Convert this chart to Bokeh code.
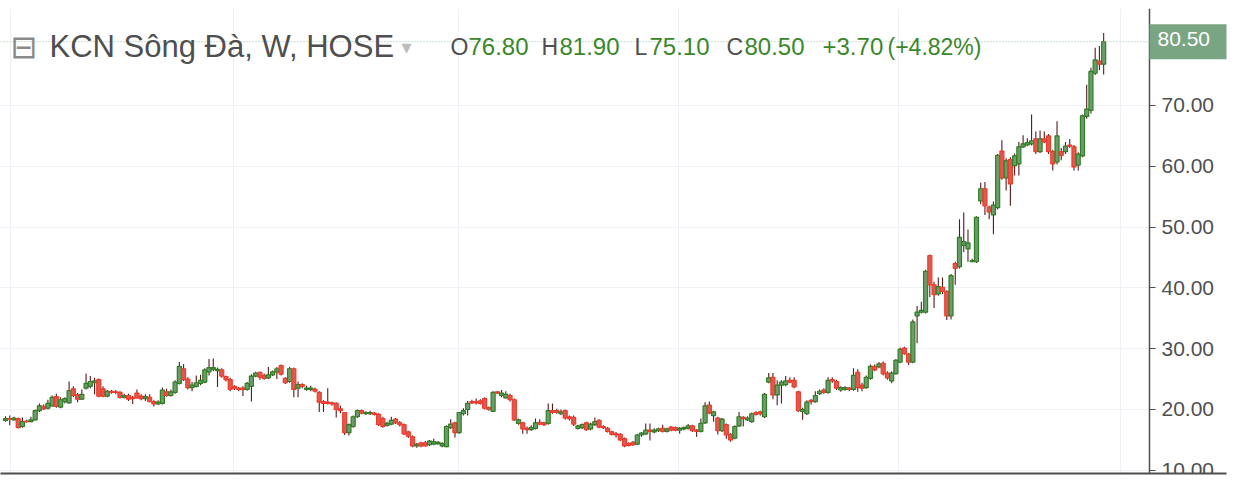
from bokeh.plotting import figure
from bokeh.models import (Range1d, FixedTicker, NumeralTickFormatter, Label, Span,
                          BoxAnnotation, ColumnDataSource)
from bokeh.embed import file_html
from bokeh.resources import INLINE

# ---------------- data (weekly candles, KCN Song Da, HOSE) ----------------
opens = [18.2, 18.5, 18.3, 18.5, 17.2, 18.1, 18.0, 18.3, 19.8, 20.5,
         20.2, 20.6, 22.1, 20.4, 21.3, 21.1, 23.4, 22.4, 21.7, 23.5,
         23.8, 24.4, 24.9, 23.4, 22.2, 23.0, 22.9, 22.8, 22.0, 22.3,
         22.0, 22.7, 22.2, 21.8, 22.0, 21.3, 20.9, 21.0, 22.9, 22.3,
         22.8, 24.3, 26.7, 25.0, 23.6, 23.8, 24.3, 24.5, 26.2, 26.6,
         26.4, 26.5, 25.4, 24.9, 23.8, 23.5, 23.5, 23.3, 23.8, 25.5,
         26.1, 25.6, 25.2, 25.7, 26.2, 27.2, 25.1, 24.6, 26.7, 23.5,
         24.1, 23.3, 23.3, 23.3, 22.8, 21.3, 21.2, 21.1, 21.0, 20.1,
         19.5, 16.2, 17.2, 18.8, 19.8, 19.3, 19.3, 19.4, 19.2, 18.5,
         17.4, 17.6, 18.4, 17.8, 17.5, 16.3, 15.5, 14.0, 14.5, 14.5,
         14.2, 14.3, 14.4, 14.0, 13.9, 17.0, 17.8, 16.2, 19.3, 20.0,
         21.3, 21.3, 21.4, 21.8, 20.3, 19.7, 22.9, 22.3, 21.9, 22.3,
         21.6, 17.7, 17.8, 16.9, 16.7, 16.9, 17.9, 17.8, 17.7, 19.8,
         19.8, 19.3, 19.8, 18.8, 18.7, 16.9, 17.0, 17.8, 16.8, 17.5,
         18.2, 17.2, 16.9, 16.3, 16.0, 15.9, 15.2, 14.4, 14.6, 14.3,
         15.8, 16.0, 16.6, 16.3, 16.5, 16.9, 16.4, 17.1, 17.0, 16.6,
         16.8, 16.9, 17.3, 16.6, 16.4, 17.8, 20.7, 19.0, 18.6, 16.5,
         17.5, 15.9, 15.3, 17.3, 18.7, 18.3, 18.0, 19.5, 19.6, 18.8,
         24.5, 25.3, 22.4, 24.0, 24.1, 24.8, 24.8, 22.9, 19.7, 19.3,
         21.5, 21.3, 22.6, 23.2, 22.8, 24.9, 24.6, 23.2, 23.3, 23.5,
         23.3, 26.1, 24.0, 23.6, 25.1, 27.1, 27.0, 27.6, 26.0, 24.7,
         25.9, 27.8, 30.1, 29.1, 27.8, 35.4, 36.0, 36.0, 45.3, 40.5,
         39.0, 40.1, 39.4, 35.4, 44.0, 43.5, 47.0, 46.4, 44.3, 44.3,
         54.3, 56.3, 53.3, 52.0, 53.2, 62.5, 58.1, 61.1, 60.1, 60.4,
         63.2, 63.5, 63.7, 64.5, 62.4, 64.5, 65.0, 62.4, 60.7, 62.4,
         62.4, 63.5, 63.2, 60.2, 61.7, 68.2, 69.2, 75.3, 77.3, 76.8]
highs = [18.9, 19.0, 18.8, 18.7, 18.7, 18.3, 18.8, 20.0, 21.0, 20.8,
         21.6, 22.3, 22.6, 22.0, 22.0, 24.6, 23.8, 22.7, 23.3, 25.9,
         25.5, 25.2, 25.1, 23.8, 23.2, 23.2, 23.2, 23.0, 22.6, 22.6,
         22.2, 23.3, 22.5, 22.5, 22.5, 21.5, 21.5, 23.6, 23.4, 23.3,
         24.8, 27.8, 27.5, 25.3, 24.5, 25.6, 25.7, 26.8, 28.3, 28.4,
         26.9, 26.8, 25.6, 25.2, 24.0, 23.7, 23.8, 24.5, 25.8, 26.2,
         26.2, 25.9, 27.0, 26.4, 27.0, 27.4, 25.3, 27.0, 26.9, 24.6,
         24.3, 23.9, 23.9, 23.6, 23.0, 21.5, 23.5, 21.3, 21.2, 20.6,
         19.6, 17.7, 19.0, 20.0, 20.0, 19.7, 19.8, 19.6, 19.4, 18.8,
         18.0, 18.8, 18.6, 18.1, 17.7, 16.5, 15.7, 14.5, 14.7, 14.8,
         15.0, 15.2, 14.8, 14.6, 17.4, 18.4, 18.0, 19.6, 20.2, 21.4,
         21.6, 21.8, 21.7, 22.0, 20.5, 23.0, 23.0, 23.2, 23.0, 22.6,
         21.8, 18.5, 18.0, 17.2, 17.4, 18.5, 18.4, 18.0, 21.0, 21.0,
         20.1, 20.0, 20.0, 19.0, 19.0, 17.5, 17.7, 18.0, 17.8, 18.7,
         18.4, 17.4, 17.1, 16.5, 16.3, 16.1, 15.4, 14.6, 14.8, 16.0,
         16.3, 17.7, 17.7, 16.9, 17.0, 17.5, 17.0, 17.3, 17.2, 17.1,
         17.2, 17.6, 17.5, 16.8, 18.5, 21.2, 21.3, 19.8, 18.8, 18.6,
         17.7, 16.1, 17.4, 19.6, 18.9, 18.9, 19.5, 19.7, 19.8, 22.7,
         26.0, 26.0, 24.8, 24.8, 25.5, 25.3, 25.3, 23.1, 20.3, 21.5,
         21.7, 23.0, 23.3, 23.5, 25.3, 25.3, 24.9, 23.8, 23.8, 23.7,
         26.8, 26.6, 24.4, 25.6, 27.4, 27.4, 27.8, 27.9, 26.3, 26.3,
         28.3, 30.2, 30.3, 29.3, 34.8, 37.0, 37.7, 43.0, 45.5, 41.0,
         41.7, 41.7, 39.6, 42.3, 44.3, 51.3, 52.4, 49.6, 44.8, 51.8,
         57.3, 57.4, 53.5, 54.2, 62.0, 64.3, 61.3, 61.5, 62.1, 64.0,
         65.1, 64.6, 68.5, 65.7, 65.9, 65.7, 65.3, 62.7, 67.4, 63.0,
         64.0, 64.5, 63.5, 62.3, 68.5, 73.4, 76.2, 79.5, 79.8, 81.9]
lows = [18.0, 17.4, 18.2, 16.9, 17.0, 17.8, 17.9, 18.2, 19.6, 19.9,
        20.0, 20.5, 20.3, 20.2, 21.0, 21.0, 22.0, 21.2, 21.6, 23.3,
        23.5, 22.5, 22.0, 22.0, 22.0, 22.6, 22.5, 21.8, 21.8, 21.4,
        20.9, 21.8, 21.5, 21.4, 21.2, 20.5, 20.7, 20.8, 22.1, 22.1,
        22.6, 24.1, 24.7, 23.3, 23.0, 23.6, 24.0, 24.3, 25.6, 26.3,
        23.7, 25.2, 24.6, 23.0, 23.2, 23.0, 22.2, 23.1, 21.3, 25.3,
        24.9, 24.9, 25.0, 25.5, 25.0, 25.6, 24.2, 24.4, 22.0, 22.0,
        23.5, 23.1, 23.0, 22.8, 19.6, 19.6, 20.8, 20.6, 18.7, 19.4,
        15.8, 15.7, 17.0, 18.6, 19.2, 19.1, 19.1, 19.0, 17.3, 17.0,
        17.2, 17.4, 17.6, 17.2, 15.8, 15.3, 13.8, 13.7, 13.8, 13.9,
        14.0, 14.1, 14.2, 13.8, 13.8, 16.8, 15.4, 16.0, 19.0, 19.0,
        20.9, 20.8, 20.8, 20.0, 19.8, 19.6, 22.5, 22.0, 21.8, 21.3,
        18.1, 17.5, 16.0, 16.0, 16.5, 16.7, 17.4, 17.3, 17.5, 19.3,
        19.3, 19.1, 18.3, 18.2, 17.3, 16.7, 16.8, 16.5, 16.6, 17.3,
        16.9, 16.8, 16.2, 15.7, 15.4, 14.8, 13.8, 13.9, 14.0, 14.1,
        15.5, 15.8, 14.9, 16.1, 16.3, 16.2, 16.2, 16.4, 16.4, 16.0,
        16.6, 16.7, 16.3, 15.5, 16.2, 17.6, 19.2, 18.0, 15.9, 16.3,
        15.2, 14.7, 15.1, 17.1, 17.2, 18.1, 17.8, 19.0, 19.0, 18.6,
        24.3, 21.7, 20.7, 21.0, 23.8, 24.3, 23.5, 19.6, 18.3, 19.1,
        20.8, 21.1, 22.4, 22.6, 22.6, 24.4, 23.2, 22.9, 23.1, 23.0,
        23.1, 22.9, 23.0, 23.4, 24.9, 26.3, 26.8, 25.6, 24.9, 24.3,
        25.7, 27.6, 29.0, 27.3, 27.6, 30.9, 35.8, 35.8, 38.5, 36.7,
        38.7, 39.0, 34.7, 34.8, 40.5, 43.2, 45.9, 44.3, 44.2, 44.1,
        53.8, 52.0, 51.3, 48.8, 52.9, 57.8, 56.0, 53.5, 58.5, 58.5,
        63.0, 63.3, 63.4, 62.0, 62.2, 63.8, 62.0, 59.3, 60.3, 61.0,
        62.0, 63.0, 59.3, 59.3, 61.5, 67.8, 68.7, 75.0, 75.8, 75.1]
closes = [18.5, 18.4, 18.6, 17.0, 18.0, 18.0, 18.3, 19.8, 20.6, 20.1,
          21.0, 22.0, 20.5, 21.6, 21.8, 23.1, 22.3, 21.7, 22.5, 24.3,
          24.6, 24.7, 22.2, 22.2, 23.0, 22.8, 22.8, 22.0, 22.3, 21.7,
          21.8, 21.9, 21.8, 22.1, 21.3, 20.9, 21.2, 23.2, 22.3, 22.9,
          24.5, 27.1, 24.9, 23.6, 24.0, 24.4, 24.8, 26.5, 26.9, 26.9,
          26.6, 25.5, 24.9, 23.3, 23.5, 23.3, 23.3, 24.3, 25.5, 26.0,
          25.3, 25.1, 25.7, 26.2, 26.7, 25.8, 24.4, 26.7, 23.3, 24.1,
          23.8, 23.5, 23.5, 23.0, 21.2, 21.0, 21.0, 20.9, 20.0, 19.8,
          16.2, 17.5, 18.8, 19.8, 19.4, 19.5, 19.5, 19.2, 17.5, 17.2,
          17.7, 18.2, 17.8, 17.5, 16.0, 15.6, 14.0, 14.3, 14.0, 14.0,
          14.8, 14.7, 14.6, 14.4, 17.2, 17.6, 16.2, 19.5, 19.8, 21.0,
          21.1, 21.1, 21.0, 20.2, 20.0, 22.8, 22.7, 22.7, 22.5, 21.6,
          18.3, 18.3, 16.8, 16.7, 17.0, 17.8, 17.6, 17.5, 19.8, 19.5,
          19.5, 19.6, 18.6, 18.5, 17.6, 17.3, 17.5, 16.7, 17.6, 18.0,
          17.1, 17.0, 16.4, 15.9, 15.8, 15.0, 14.0, 14.1, 14.2, 15.8,
          16.1, 16.6, 16.4, 16.6, 16.8, 16.4, 16.8, 16.6, 16.6, 16.9,
          17.0, 17.3, 16.5, 16.4, 17.7, 20.6, 19.4, 19.6, 16.5, 18.4,
          15.8, 15.0, 17.2, 18.8, 18.5, 18.6, 19.3, 19.2, 19.3, 22.5,
          25.2, 22.4, 24.0, 24.5, 24.7, 24.5, 23.7, 19.8, 20.0, 21.2,
          21.3, 22.3, 23.0, 22.8, 24.8, 24.7, 23.5, 23.6, 23.6, 23.3,
          25.6, 23.6, 23.5, 25.3, 27.1, 26.5, 27.5, 25.9, 25.2, 26.0,
          28.1, 29.9, 29.2, 27.8, 34.4, 36.0, 36.3, 42.7, 40.5, 38.9,
          40.2, 39.4, 35.4, 42.0, 43.2, 48.3, 47.6, 47.4, 44.5, 51.6,
          56.3, 53.5, 52.5, 53.6, 61.8, 58.1, 60.9, 57.1, 61.7, 63.2,
          63.7, 63.9, 64.2, 62.4, 64.5, 64.0, 62.4, 60.4, 65.0, 61.8,
          63.3, 63.3, 59.9, 62.0, 68.3, 69.4, 75.6, 77.5, 76.8, 80.5]

price_ticks = [10, 20, 30, 40, 50, 60, 70]
year_grid = [1.18, 53.8, 106.8, 158.7, 210.6, 263.0]   # bar positions where a new year starts
symbol_name = "KCN Sông Đà, W, HOSE"

# ---------------- layout / styles ----------------
W, H = 1234, 484
BAR_PX, FIRST_BAR_PX = 4.24, 5.0       # horizontal bar spacing in pixels
AXIS_PX = 1149                          # pixel column of the price-axis line
FRAME_RIGHT_PX = 1226
UP_LINE, UP_FILL = "#2f7d25", "#6a9d6a"
DN_LINE, DN_FILL = "#f03a2c", "#dc5a4e"
WICK = "#561a1a"
GRID = "#eef1f5"
AXIS = "#4f4f4f"
TXT = "#4f4f4f"
GREEN_TXT = "#3a872b"
FONT = "Liberation Sans"

n = len(closes)
idx = list(range(n))
up = [c >= o for o, c in zip(opens, closes)]
src = ColumnDataSource(dict(
    x=idx, o=opens, h=highs, l=lows, c=closes,
    top=[max(o, c) for o, c in zip(opens, closes)],
    bot=[min(o, c) for o, c in zip(opens, closes)],
    fill=[UP_FILL if u else DN_FILL for u in up],
    line=[UP_LINE if u else DN_LINE for u in up],
))

to_bar = lambda px: (px - FIRST_BAR_PX) / BAR_PX
axis_x = to_bar(AXIS_PX)
xr = Range1d(to_bar(0), to_bar(FRAME_RIGHT_PX))
p = figure(width=W, height=H, x_range=xr, y_range=Range1d(9.47, 85.95),
           y_axis_location="right", output_backend="svg", toolbar_location=None,
           min_border_left=0, min_border_right=W - FRAME_RIGHT_PX, min_border_top=8, min_border_bottom=11)
p.outline_line_color = None
p.background_fill_color = "white"
p.border_fill_color = "white"

# grids
p.ygrid.ticker = FixedTicker(ticks=price_ticks)
p.ygrid.grid_line_color = GRID
p.xgrid.ticker = FixedTicker(ticks=year_grid)
p.xgrid.grid_line_color = GRID
# keep the price-scale strip clean of grid lines
p.add_layout(BoxAnnotation(left=axis_x, fill_color="white", fill_alpha=1.0,
                           line_color=None, level="underlay"))

# bottom (time) axis: only its line is visible
p.xaxis.ticker = FixedTicker(ticks=[])
p.xaxis.major_label_text_font_size = "0px"
p.xaxis.major_tick_out = 0
p.xaxis.minor_tick_out = 0
p.xaxis.major_label_standoff = 0
p.xaxis.axis_line_color = AXIS
p.xaxis.axis_line_width = 2

# right price axis, drawn at a fixed position inside the canvas
p.yaxis.fixed_location = axis_x
p.yaxis.ticker = FixedTicker(ticks=price_ticks)
p.yaxis.formatter = NumeralTickFormatter(format="0.00")
p.yaxis.major_label_text_font = FONT
p.yaxis.major_label_text_font_size = "21px"
p.yaxis.major_label_text_color = TXT
p.yaxis.axis_line_color = AXIS
p.yaxis.axis_line_width = 1.5
p.yaxis.major_tick_line_color = AXIS
p.yaxis.major_tick_out = 6
p.yaxis.major_tick_in = 0
p.yaxis.minor_tick_line_color = None
p.yaxis.major_label_standoff = 6

# candles
p.segment(x0="x", y0="l", x1="x", y1="h", source=src, line_color=WICK, line_width=1.1)
p.vbar(x="x", width=0.95, top="top", bottom="bot", source=src,
       fill_color="fill", line_color="line", line_width=1.2)

# last price line and label
last = closes[-1]
p.add_layout(Span(location=last, dimension="width", line_color="#9fc0a6",
                  line_dash="1 2", line_width=1))
p.add_layout(Label(x=axis_x, x_units="data", y=last, y_units="data", text=f"{last:.2f}",
                   text_font=FONT, text_font_size="21px", text_color="white",
                   text_baseline="middle", text_align="left",
                   background_fill_color="#7aa582", padding=(8, 30, 8, 13)))

# header: symbol and OHLC legend
def lab(x, text, color, size="23px", font=FONT):
    p.add_layout(Label(x=x, x_units="screen", y=427, y_units="screen", text=text,
                       text_font=font, text_font_size=size, text_color=color,
                       text_baseline="middle", text_align="left"))

lab(10, "⊟", "#8a8a8a", size="32px", font="DejaVu Sans")
lab(49, symbol_name, TXT, size="31px")
lab(401, "▾", "#bdbdbd", size="20px", font="DejaVu Sans")
chg = closes[-1] - closes[-2]
pct = chg / closes[-2] * 100
lab(450, "O", TXT, size="23px"); lab(468, f"{opens[-1]:.2f}", GREEN_TXT, size="24px")
lab(541, "H", TXT, size="23px"); lab(559, f"{highs[-1]:.2f}", GREEN_TXT, size="24px")
lab(634, "L", TXT, size="23px"); lab(649, f"{lows[-1]:.2f}", GREEN_TXT, size="24px")
lab(726, "C", TXT, size="23px"); lab(744, f"{closes[-1]:.2f}", GREEN_TXT, size="24px")
lab(822, f"{chg:+.2f}", GREEN_TXT, size="24px")
lab(887, f"({pct:+.2f}%)", GREEN_TXT, size="23px")

open("out.html", "w").write(file_html(p, INLINE))
